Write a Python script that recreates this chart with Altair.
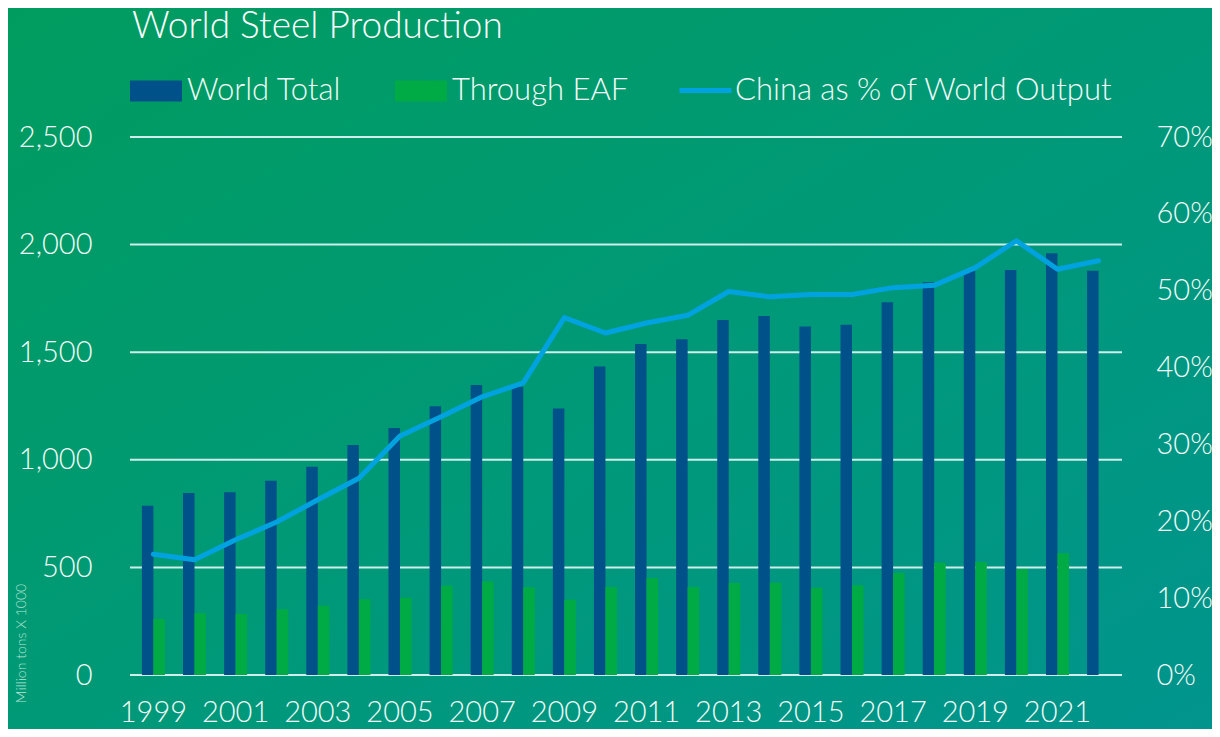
import altair as alt
import pandas as pd

# ---- data ----
years = list(range(1999, 2023))
world_total = [787, 846, 849, 903, 968, 1069, 1148, 1249, 1348, 1340, 1238, 1433,
               1538, 1560, 1650, 1668, 1619, 1627, 1732, 1825, 1879, 1882, 1960, 1878]
through_eaf = [260, 287, 283, 305, 322, 352, 359, 415, 435, 408, 350, 409,
               451, 409, 428, 429, 406, 417, 474, 522, 525, 493, 566, None]
china_pct = [15.7, 15.0, 17.6, 19.9, 22.8, 25.6, 31.1, 33.6, 36.2, 38.0, 46.5, 44.5,
             45.8, 46.8, 49.9, 49.2, 49.5, 49.5, 50.4, 50.7, 53.0, 56.5, 52.8, 53.9]
left_ticks = [0, 500, 1000, 1500, 2000, 2500]
right_ticks = [0, 10, 20, 30, 40, 50, 60, 70]
x_label_years = [1999, 2001, 2003, 2005, 2007, 2009, 2011, 2013, 2015, 2017, 2019, 2021]
series_names = ["World Total", "Through EAF"]
line_name = "China as % of World Output"
title_text = "World Steel Production"
y_title = "Million tons X 1000"

# ---- tables ----
rows = []
for y, w, e in zip(years, world_total, through_eaf):
    rows.append({"year": y, "series": series_names[0], "value": w})
    if e is not None:
        rows.append({"year": y, "series": series_names[1], "value": e})
bars_df = pd.DataFrame(rows)
line_df = pd.DataFrame({"year": years, "pct": china_pct, "name": [line_name] * len(years)})
grid_df = pd.DataFrame({"v": left_ticks})

# ---- styling ----
W, H = 992, 538
FONT = "Lato"
BLUE = "#00518a"
GREEN = "#00ab45"
CYAN = "#00a3e0"
GRID = "#cdeeec"
TEXT = "#f2fbf8"

x_enc = alt.X(
    "year:O",
    scale=alt.Scale(paddingInner=0.44, paddingOuter=0.29),
    axis=alt.Axis(values=x_label_years, title=None, labelAngle=0, labelFontSize=29,
                  labelFont=FONT, labelFontWeight=300, labelColor=TEXT, zindex=2,
                  ticks=False, tickSize=0, domain=False, grid=False, labelPadding=23),
)

left_scale = alt.Scale(domain=[0, 2500], nice=False)
left_axis = alt.Axis(values=left_ticks, format=",d", title=y_title, grid=False,
                     ticks=False, tickSize=0, domain=False, labelPadding=38,
                     labelFontSize=29, labelFont=FONT, labelFontWeight=300,
                     labelColor=TEXT, zindex=2,
                     titleFont=FONT, titleFontSize=14, titleFontWeight=300,
                     titleColor="#b8e4d6", titleAngle=-90, titleX=-105, titleY=506,
                     titleAlign="center", titleBaseline="alphabetic")

bg = alt.Chart(pd.DataFrame({"k": [0]})).mark_rect(
    color=alt.Gradient(
        gradient="linear",
        stops=[alt.GradientStop(color="#009c5e", offset=0),
               alt.GradientStop(color="#009977", offset=0.5),
               alt.GradientStop(color="#00948e", offset=1)],
        x1=0, y1=0, x2=1, y2=1,
    )
).encode(x=alt.value(-140), x2=alt.value(W + 100), y=alt.value(-140), y2=alt.value(H + 70))

grid = alt.Chart(grid_df).mark_rule(color=GRID, strokeWidth=2).encode(
    y=alt.Y("v:Q", scale=left_scale, axis=left_axis)
)

bars = alt.Chart(bars_df).mark_bar().encode(
    x=x_enc,
    xOffset=alt.XOffset("series:N", sort=series_names,
                        scale=alt.Scale(domain=series_names, paddingInner=0, paddingOuter=0)),
    y=alt.Y("value:Q", scale=left_scale, axis=left_axis),
    fill=alt.Fill("series:N", sort=series_names,
                  scale=alt.Scale(domain=series_names, range=[BLUE, GREEN]),
                  legend=alt.Legend(title=None, orient="none", direction="horizontal",
                                    columns=2, legendX=0, legendY=-72,
                                    symbolType="M-1,-0.4H1V0.4H-1Z", symbolSize=2704,
                                    symbolStrokeWidth=0, labelFontSize=31, labelFont=FONT,
                                    labelFontWeight=300, labelColor=TEXT, labelOffset=5,
                                    columnPadding=53, labelLimit=400)),
)

line = alt.Chart(line_df).mark_line(strokeWidth=5, strokeCap="round", strokeJoin="round").encode(
    x=x_enc,
    y=alt.Y("pct:Q", scale=alt.Scale(domain=[0, 70], nice=False),
            axis=alt.Axis(orient="right", values=right_ticks, labelExpr="datum.value + '%'",
                          title=None, grid=False, ticks=False, tickSize=0, domain=False,
                          labelPadding=34, labelFontSize=29, labelFont=FONT, zindex=2,
                          labelFontWeight=300, labelColor=TEXT, labelAlign="left")),
    stroke=alt.Stroke("name:N", scale=alt.Scale(domain=[line_name], range=[CYAN]),
                      legend=alt.Legend(title=None, orient="none", legendX=547, legendY=-75,
                                        symbolType="stroke", symbolSize=2704,
                                        symbolStrokeWidth=5, labelFontSize=31, labelFont=FONT,
                                        labelFontWeight=300, labelColor=TEXT, labelOffset=1,
                                        labelLimit=500)),
)

left = alt.layer(grid, bars)

chart = alt.layer(bg, left, line).resolve_scale(
    y="independent"
).properties(
    width=W, height=H,
    title=alt.Title(title_text, anchor="start", frame="group", fontSize=37, font=FONT,
                    fontWeight=300, color="#ffffff", baseline="alphabetic", offset=-78,
                    dx=2, zindex=2),
    autosize=alt.AutoSizeParams(type="none"),
    padding={"left": 122, "top": 129, "right": 90, "bottom": 54},
).configure_view(stroke=None).configure(background="#009878")

chart.save("out.html", embed_options={"renderer": "svg", "actions": False})
